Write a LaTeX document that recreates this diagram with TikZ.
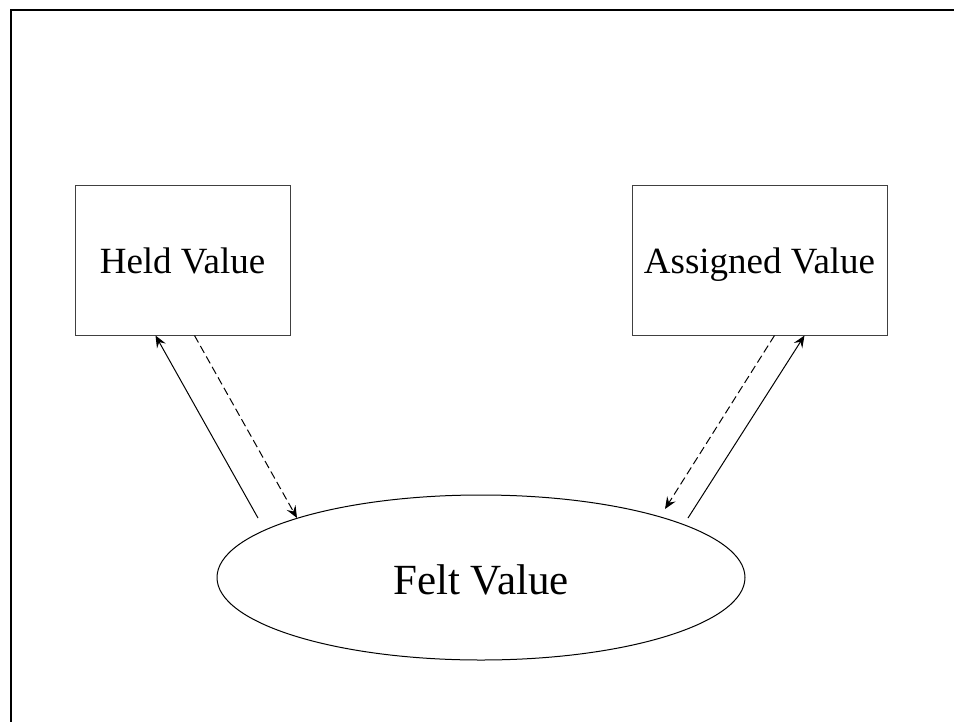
\documentclass[tikz,border=0pt]{standalone}
\usepackage{fontspec}
\setmainfont{Liberation Serif}
\usetikzlibrary{arrows.meta,shapes.geometric,calc}

\tikzset{
  valuebox/.style={draw=black!75, line width=1pt, rectangle,
    minimum width=215pt, minimum height=150pt, inner sep=0pt,
    text height=34pt, text depth=8pt,
    font=\fontsize{37}{42}\selectfont},
  feltnode/.style={draw=black, line width=1pt, ellipse,
    minimum width=528pt, minimum height=165pt, inner sep=0pt},
  tip/.style={-{Stealth[length=12pt,width=10pt,inset=4.5pt]}},
  flow/.style={tip, line width=1pt},
  backflow/.style={tip, line width=1pt, dash pattern=on 8pt off 4pt},
  frameline/.style={line width=2pt}
}

\begin{document}
\begin{tikzpicture}[x=1pt,y=-1pt]
  \useasboundingbox (0,0) rectangle (954,721);

  % open frame along the top and left edges
  \coordinate (fbot) at (11,722);
  \coordinate (fcorner) at (11,10);
  \coordinate (fright) at (955,10);
  \draw[frameline] (fbot) -- (fcorner) -- (fright);

  % the three value nodes
  \node[valuebox] (held) at (182.5,260) {Held Value};
  \node[valuebox, minimum width=255pt] (assigned) at (759.5,260) {Assigned Value};
  \node[feltnode] (felt) at (481,577.5) {};
  \node[font=\fontsize{43}{48}\selectfont, inner sep=0pt, anchor=base] (feltlabel) at (481,594) {Felt Value};

  % held value <-> felt value
  \coordinate (hsolidA) at (258,518);
  \coordinate (hsolidB) at ($(held.south west)+(81,0)$);
  \coordinate (hdashA) at ($(held.south west)+(120,0)$);
  \coordinate (hdashB) at (297,518);
  \draw[flow] (hsolidA) -- (hsolidB);
  \draw[backflow] (hdashA) -- (hdashB);

  % assigned value <-> felt value
  \coordinate (adashA) at ($(assigned.south west)+(143,0)$);
  \coordinate (adashB) at (665,509);
  \coordinate (asolidA) at (688,518);
  \coordinate (asolidB) at ($(assigned.south west)+(173,0)$);
  \draw[backflow] (adashA) -- (adashB);
  \draw[flow] (asolidA) -- (asolidB);
\end{tikzpicture}
\end{document}
